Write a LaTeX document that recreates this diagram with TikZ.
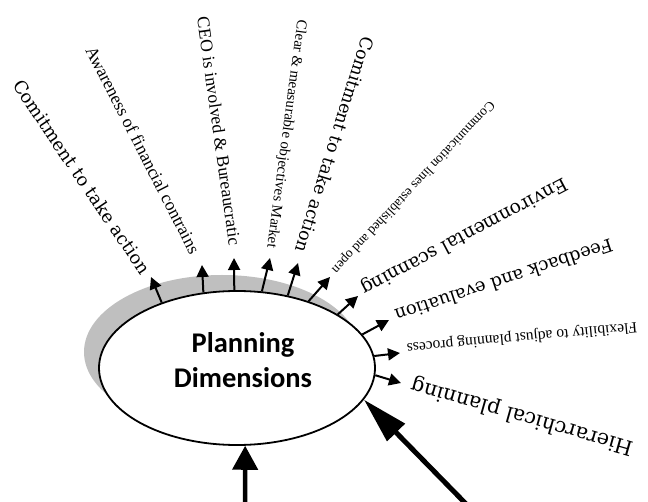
\documentclass[tikz,border=0pt]{standalone}
\usepackage{fontspec}
\setmainfont{Liberation Serif}
\newfontfamily\wideserif{DejaVu Serif}
\newfontfamily\calib{Carlito}
\usetikzlibrary{arrows.meta,shapes.geometric}
\definecolor{shadowgray}{RGB}{191,191,191}
\begin{document}
\begin{tikzpicture}[x=1pt,y=-1pt,
  smallarrow/.style={line width=2pt,-{Triangle[length=12pt,width=12pt]}},
  bigarrow/.style={line width=4.5pt,-{Triangle[length=24pt,width=25pt]}},
  longarrow/.style={line width=5pt,-{Triangle[length=46pt,width=24pt]}},
  lbl/.style={anchor=center,inner sep=0pt},
  oval/.style={ellipse,minimum width=276pt,minimum height=154pt,inner sep=0pt}
]
\useasboundingbox (0,0) rectangle (648,502);
\node[oval,fill=shadowgray] (sh) at (222,352) {};
\node[oval,draw,line width=1.8pt,fill=white] (e) at (237,368) {};
\node[align=center,inner sep=0pt,
      font=\calib\bfseries\fontsize{28.5}{35}\selectfont] (title) at (243,360) {Planning\\Dimensions};

% labels
\node[lbl,rotate=-56] (l1) at (82,177) {\resizebox{230pt}{!}{\wideserif Comitment to take action}};
\node[lbl,rotate=-62.9] (l2) at (143,150) {\resizebox{230pt}{!}{Awareness of financial contrains}};
\node[lbl,rotate=-82] (l3) at (219,131) {\resizebox{230pt}{!}{CEO is involved \& Bureaucratic}};
\node[lbl,rotate=-97.6] (l4) at (286,134) {\resizebox{230pt}{!}{Clear \& measurable objectives Market}};
\node[lbl,rotate=-107.3] (l5) at (335,145) {\resizebox{225pt}{!}{\wideserif Comitment to take action}};
\node[lbl,rotate=-133.2] (l6) at (413,187) {\resizebox{231pt}{!}{Communication lines established and open}};
\node[lbl,rotate=-152.1] (l7) at (464,236) {\resizebox{231pt}{!}{\wideserif Environmental scanning}};
\node[lbl,rotate=-161.6] (l8) at (504,281) {\resizebox{228pt}{!}{\wideserif Feedback and evaluation}};
\node[lbl,rotate=-174.8] (l9) at (522,337) {\resizebox{231pt}{!}{Flexibility to adjust planning process}};
\node[lbl,rotate=164.1] (l10) at (522,416) {\resizebox{230pt}{!}{\wideserif Hierarchical planning}};

% small arrows
\coordinate (t1) at (151,277);
\coordinate (t2) at (202,265);
\coordinate (t3) at (234,258);
\coordinate (t4) at (270,258);
\coordinate (t5) at (298,263);
\coordinate (t6) at (330,277);
\coordinate (t7) at (358,296);
\coordinate (t8) at (389,320);
\coordinate (t9) at (400,353);
\coordinate (t10) at (401,383);
\draw[smallarrow] (e.139.4) -- (t1);
\draw[smallarrow] (e.114.7) -- (t2);
\draw[smallarrow] (e.92.1) -- (t3);
\draw[smallarrow] (e.72.4) -- (t4);
\draw[smallarrow] (e.55.8) -- (t5);
\draw[smallarrow] (e.43.8) -- (t6);
\draw[smallarrow] (e.28.7) -- (t7);
\draw[smallarrow] (e.15.6) -- (t8);
\draw[smallarrow] (e.5.8) -- (t9);
\draw[smallarrow] (e.-3.7) -- (t10);

% big arrows
\coordinate (b1) at (245,508);
\coordinate (b2) at (470,508);
\draw[bigarrow] (b1) -- (e.-84);
\draw[longarrow] (b2) -- (e.-14);
\end{tikzpicture}
\end{document}
